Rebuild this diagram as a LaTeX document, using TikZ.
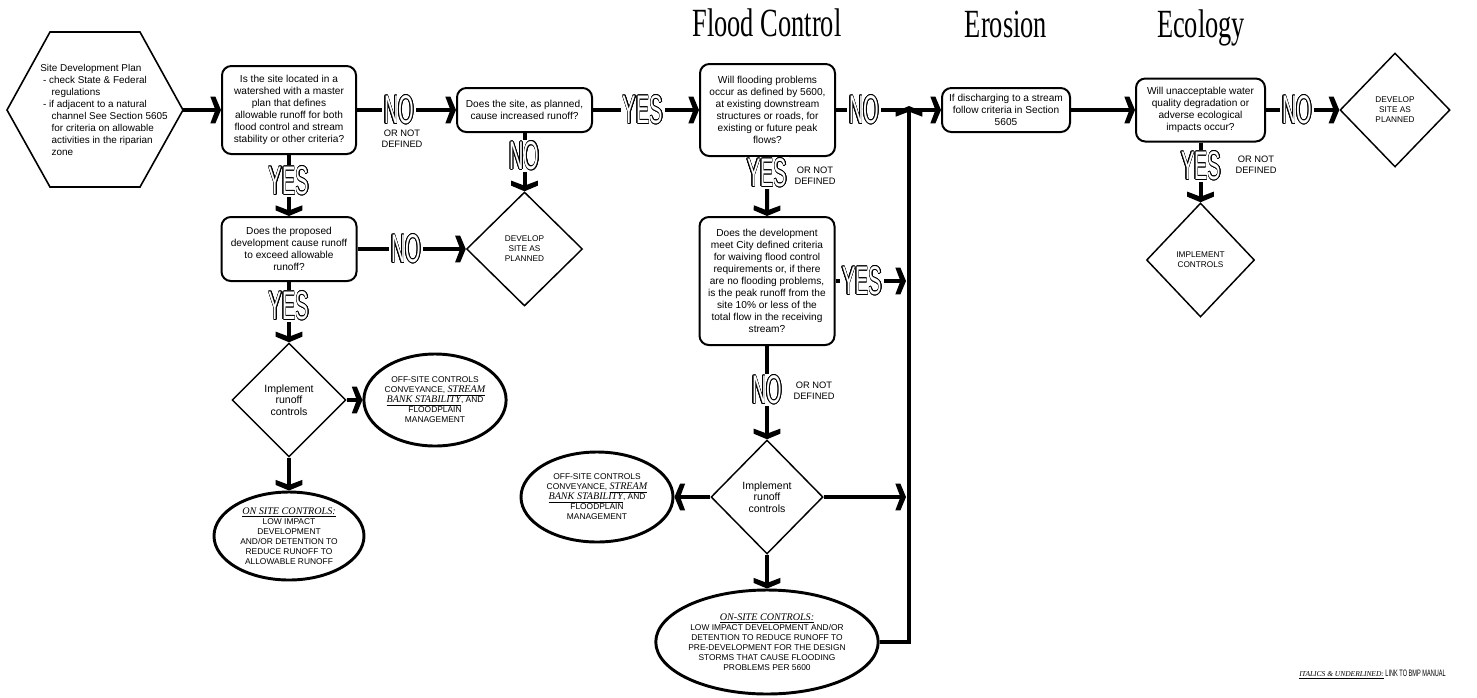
\documentclass[tikz,border=0pt]{standalone}
\usetikzlibrary{shapes.geometric}
\usepackage{fontspec}
\setmainfont{Liberation Sans}
\newfontfamily\serifit{Liberation Serif}
\newfontfamily\titlefont[FakeStretch=0.66]{Liberation Serif}
\newfontfamily\ynfont[FakeStretch=0.5]{Liberation Sans}
\newfontfamily\notefont[FakeStretch=0.6]{Liberation Sans}
\usepackage{contour}
\contourlength{0.45pt}
\newcommand\yn[1]{\textcolor{white}{\contour{black}{#1}}}
\newcommand\lnk[1]{\underline{\serifit\itshape\fontsize{7.6}{7.5}\selectfont #1}}
\pgfdeclarearrow{
  name = Chev,
  setup code = {
    \pgfarrowssettipend{0pt}
    \pgfarrowssetlineend{-3.5pt}
    \pgfarrowssetbackend{-8pt}
    \pgfarrowsupperhullpoint{-8pt}{10pt}
    \pgfarrowshullpoint{0pt}{0pt}
  },
  drawing code = {
    \pgfpathmoveto{\pgfqpoint{0pt}{0pt}}
    \pgfpathlineto{\pgfqpoint{-4.2pt}{10pt}}
    \pgfpathlineto{\pgfqpoint{-8pt}{10pt}}
    \pgfpathlineto{\pgfqpoint{-4.2pt}{0pt}}
    \pgfpathlineto{\pgfqpoint{-8pt}{-10pt}}
    \pgfpathlineto{\pgfqpoint{-4.2pt}{-10pt}}
    \pgfpathclose
    \pgfusepathqfill
  }
}
\begin{document}
\begin{tikzpicture}[x=0.75pt,y=-0.75pt,
  box/.style={draw, line width=1.5pt, rounded corners=7pt, align=center, inner sep=0pt, font=\fontsize{7.6}{9}\selectfont},
  dia/.style={draw, diamond, line width=1.1pt, align=center, inner sep=0pt},
  smalltxt/.style={font=\fontsize{6.2}{7.5}\selectfont},
  runtxt/.style={font=\fontsize{7.9}{8.8}\selectfont},
  ell/.style={draw, ellipse, line width=2.2pt, align=center, inner sep=0pt, font=\fontsize{6.3}{7.5}\selectfont},
  conn/.style={line width=3pt, -Chev},
  ynlab/.style={fill=white, inner sep=1.5pt, font=\ynfont\fontsize{30}{30}\selectfont},
  ornot/.style={align=center, inner sep=0pt, font=\fontsize{7}{8}\selectfont},
  title/.style={font=\titlefont\fontsize{30}{30}\selectfont, anchor=base}]
\useasboundingbox (0,0) rectangle (1477,697);

% titles
\node[title] (t1) at (767,36) {Flood Control};
\node[title] (t2) at (1006,37) {Erosion};
\node[title] (t3) at (1201,37) {Ecology};

% start hexagon
\draw[line width=1.2pt] (7,110) -- (50,32) -- (140,32) -- (183,110) -- (140,187) -- (50,187) -- cycle;
\coordinate (hexR) at (183,110);
\node[align=left, inner sep=0pt, font=\fontsize{7.45}{9}\selectfont] (hex) at (104,110)
 {Site Development Plan\\
  \hspace*{2pt}- check State \& Federal\\
  \hspace*{8.5pt}regulations\\
  \hspace*{2pt}- if adjacent to a natural\\
  \hspace*{8.5pt}channel See Section 5605\\
  \hspace*{8.5pt}for criteria on allowable\\
  \hspace*{8.5pt}activities in the riparian\\
  \hspace*{8.5pt}zone};

% boxes
\node[box, minimum width=100.5pt, minimum height=66pt] (b1) at (289,110)
 {Is the site located in a\\watershed with a master\\plan that defines\\allowable runoff for both\\flood control and stream\\stability or other criteria?};
\node[box, minimum width=101.25pt, minimum height=33pt] (b2) at (524.5,110)
 {Does the site, as planned,\\cause increased runoff?};
\node[box, minimum width=101.25pt, minimum height=69pt] (b3) at (767.5,110)
 {Will flooding problems\\occur as defined by 5600,\\at existing downstream\\structures or roads, for\\existing or future peak\\flows?};
\node[box, minimum width=96pt, minimum height=33pt] (b5) at (1006,110)
 {If discharging to a stream\\follow criteria in Section\\5605};
\node[box, minimum width=96.75pt, minimum height=47.25pt] (b6) at (1200.5,110)
 {Will unacceptable water\\quality degradation or\\adverse ecological\\impacts occur?};
\node[box, minimum width=101.25pt, minimum height=48pt] (b4) at (289,249)
 {Does the proposed\\development cause runoff\\to exceed allowable\\runoff?};
\node[box, minimum width=101.25pt, minimum height=96pt] (b7) at (767,281)
 {Does the development\\meet City defined criteria\\for waiving flood control\\requirements or, if there\\are no flooding problems,\\is the peak runoff from the\\site 10\% or less of the\\total flow in the receiving\\stream?};

% diamonds
\node[dia, smalltxt, minimum width=82.5pt, minimum height=85.5pt] (d6) at (1395,110) {DEVELOP\\SITE AS\\PLANNED};
\node[dia, smalltxt, minimum width=81pt, minimum height=85.5pt] (d7) at (1200.5,260) {IMPLEMENT\\CONTROLS};
\node[dia, smalltxt, minimum width=87pt, minimum height=85.5pt] (d2) at (524.5,249) {DEVELOP\\SITE AS\\PLANNED};
\node[dia, runtxt, minimum width=85.5pt, minimum height=85.5pt] (d3) at (289,400) {Implement\\runoff\\controls};
\node[dia, runtxt, minimum width=84pt, minimum height=85.5pt] (d4) at (767,497) {Implement\\runoff\\controls};

% ellipses
\node[ell, minimum width=83.25pt, minimum height=69pt] (e1) at (435,400)
 {OFF-SITE CONTROLS\\CONVEYANCE, \lnk{STREAM}\\\lnk{BANK STABILITY}, AND\\FLOODPLAIN\\MANAGEMENT};
\node[ell, minimum width=112.5pt, minimum height=66pt] (e2) at (289,536)
 {\lnk{ON SITE CONTROLS:}\\LOW IMPACT\\DEVELOPMENT\\AND/OR DETENTION TO\\REDUCE RUNOFF TO\\ALLOWABLE RUNOFF};
\node[ell, minimum width=114pt, minimum height=67.5pt] (e3) at (597,497)
 {OFF-SITE CONTROLS\\CONVEYANCE, \lnk{STREAM}\\\lnk{BANK STABILITY}, AND\\FLOODPLAIN\\MANAGEMENT};
\node[ell, minimum width=139.5pt, minimum height=78pt] (e4) at (767,642)
 {\lnk{ON-SITE CONTROLS:}\\LOW IMPACT DEVELOPMENT AND/OR\\DETENTION TO REDUCE RUNOFF TO\\PRE-DEVELOPMENT FOR THE DESIGN\\STORMS THAT CAUSE FLOODING\\PROBLEMS PER 5600};

% free ends on the vertical return line
\coordinate (v1) at (906,281);
\coordinate (v2) at (906,497);
\coordinate (jn) at (909,106);

% connectors
\draw[conn] (hexR) -- (b1.west);
\draw[conn] (b1.east) -- (b2.west);
\draw[conn] (b2.east) -- (b3.west);
\draw[conn] (b3.east) -- (b5.west);
\draw[conn] (b5.east) -- (b6.west);
\draw[conn] (b6.east) -- (d6.west);
\draw[conn] (b6.south) -- (d7.north);
\draw[conn] (b1.south) -- (b4.north);
\draw[conn] (b2.south) -- (d2.north);
\draw[conn] (b4.east) -- (d2.west);
\draw[conn] (b4.south) -- (d3.north);
\draw[conn] (d3.east) -- (e1.west);
\draw[conn] (d3.south) -- (e2.north);
\draw[conn] (b3.south) -- (b7.north);
\draw[conn] (b7.east) -- (v1);
\draw[conn] (b7.south) -- (d4.north);
\draw[conn] (d4.west) -- (e3.east);
\draw[conn] (d4.east) -- (v2);
\draw[conn] (d4.south) -- (e4.north);
\draw[conn] (e4.east) -| (jn);

% YES / NO labels
\node[ynlab] (n1) at (399,110) {\yn{NO}};
\node[ornot] (o1) at (402,139) {OR NOT\\DEFINED};
\node[ynlab] (y2) at (643,110) {\yn{YES}};
\node[ynlab] (n3) at (524.5,156) {\yn{NO}};
\node[ynlab] (y4) at (289,181) {\yn{YES}};
\node[ynlab] (n5) at (406,249) {\yn{NO}};
\node[ynlab] (y6) at (289,306) {\yn{YES}};
\node[ynlab] (y7) at (767,173) {\yn{YES}};
\node[ornot] (o7) at (815,176) {OR NOT\\DEFINED};
\node[ynlab] (n8) at (864,110) {\yn{NO}};
\node[ynlab] (y9) at (862,281) {\yn{YES}};
\node[ynlab] (n10) at (767,390) {\yn{NO}};
\node[ornot] (o10) at (814,391) {OR NOT\\DEFINED};
\node[ynlab] (n11) at (1297,110) {\yn{NO}};
\node[ynlab] (y12) at (1201,166) {\yn{YES}};
\node[ornot] (o12) at (1256,165) {OR NOT\\DEFINED};

% note
\node[anchor=base east, inner sep=0pt, font=\notefont\fontsize{7}{8}\selectfont] (note) at (1446,676)
 {\underline{\serifit\itshape\fontsize{5.6}{6}\selectfont ITALICS \& UNDERLINED:} LINK TO BMP MANUAL};
\end{tikzpicture}
\end{document}
